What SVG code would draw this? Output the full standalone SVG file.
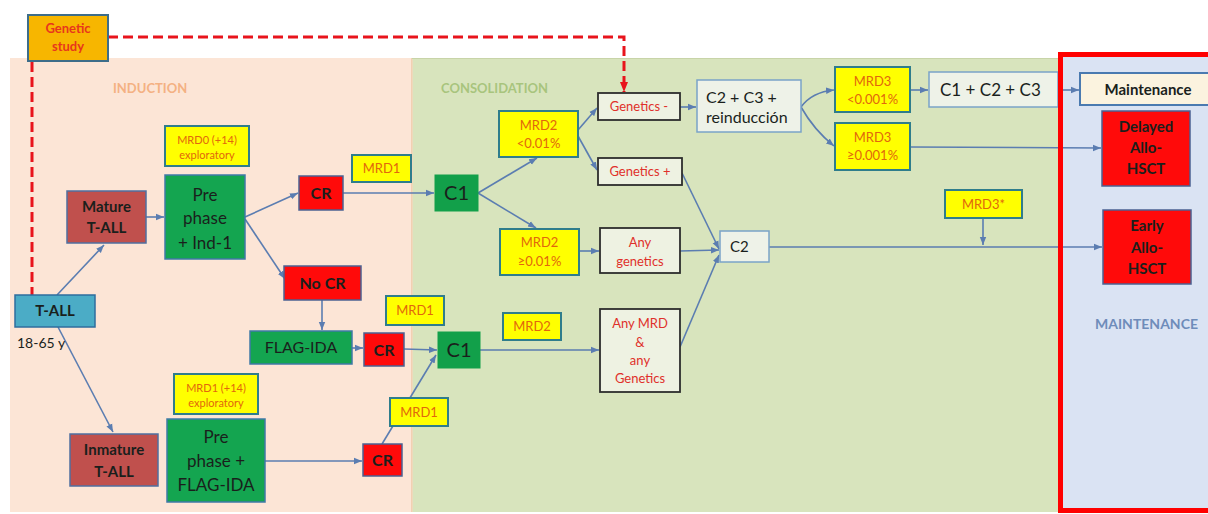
<svg xmlns="http://www.w3.org/2000/svg" width="1208" height="514" viewBox="0 0 1208 514">
<defs>
<style>
text{font-family:Lato,"Open Sans","Liberation Sans",sans-serif;}
.c{text-anchor:middle;}
.b{font-weight:bold;}
.mrd{fill:#ffff00;stroke:#2f7d8c;stroke-width:2;}
.mt{fill:#e2670c;font-size:13px;}
.ms{fill:#e2670c;font-size:11px;}
.grn{fill:#14a550;stroke:#3f79a6;stroke-width:1.5;}
.red{fill:#ff0a0a;stroke:#4b6192;stroke-width:1.5;}
.brn{fill:#c0504d;stroke:#4f6fa0;stroke-width:1.5;}
.gen{fill:#eef2e2;stroke:#2d2d2d;stroke-width:1.8;}
.pl{fill:#eef2e8;stroke:#7aa3c8;stroke-width:1.5;}
.dk{fill:#1a1f1c;}
.rt{fill:#e0302a;font-size:13px;}
.con path{fill:none;stroke:#5b7db1;stroke-width:1.6;marker-end:url(#ah);}
.con path.dash{fill:none;stroke:#e8141c;stroke-width:3;stroke-dasharray:10 5;marker-end:none;}
.con path.dash.arr{marker-end:url(#rah);}
</style>
<marker id="ah" viewBox="0 0 10 10" refX="10" refY="5" markerWidth="8" markerHeight="8" orient="auto" markerUnits="userSpaceOnUse"><path d="M0,1 L10,5 L0,9 z" fill="#5b7db1"/></marker>
<marker id="rah" viewBox="0 0 10 10" refX="10" refY="5" markerWidth="10" markerHeight="10" orient="auto" markerUnits="userSpaceOnUse"><path d="M0,1 L10,5 L0,9 z" fill="#e8141c"/></marker>
</defs>
<rect width="1208" height="514" fill="#ffffff"/>
<g id="panels">
<rect x="10" y="58" width="402" height="454" fill="#fce5d6"/>
<line x1="412" y1="58" x2="412" y2="512" stroke="#efc8a6" stroke-width="1.5"/>
<rect x="412.8" y="58" width="648" height="454" fill="#d8e4bd"/>
<line x1="412" y1="58.5" x2="1060" y2="58.5" stroke="#c8d4a8" stroke-width="1"/>
<rect x="1060" y="54" width="150" height="458" fill="#dae3f3"/>
<text x="113" y="92.5" class="b" font-size="13" fill="#f4b183">INDUCTION</text>
<text x="441" y="92.5" class="b" font-size="13" fill="#a8c47d">CONSOLIDATION</text>
<text x="1095" y="329" class="b" font-size="14" fill="#6e8cba">MAINTENANCE</text>
</g>
<g id="connectors" class="con">
<path d="M57,295 L104,245"/>
<path d="M58,327 L113,432"/>
<path d="M146,217 L164,217"/>
<path d="M245,217 L298,193"/>
<path d="M245,219 L285,279"/>
<path d="M322,300 L322,330"/>
<path d="M352,348 L363,348"/>
<path d="M343,193 L434,193"/>
<path d="M404,349 L437,350"/>
<path d="M382,444 L436,355"/>
<path d="M265,461 L362,461"/>
<path d="M478,193 L537,158"/>
<path d="M478,193 L536,228"/>
<path d="M578,130 L597,108"/>
<path d="M578,136 L597,170"/>
<path d="M680,107 L696,107"/>
<path d="M682,173 L719,249"/>
<path d="M579,251 L599,251"/>
<path d="M680,251 L719,250"/>
<path d="M680,347 L719,255"/>
<path d="M480,350 L599,350"/>
<path d="M801,107 Q812,92 834,90"/>
<path d="M801,107 Q814,130 834,146"/>
<path d="M910,90 L928,90"/>
<path d="M1058,90 L1079,90"/>
<path d="M910,147 L1101,148"/>
<path d="M769,247 L1102,247"/>
<path d="M983,218 L983,245"/>
<path class="dash arr" d="M108,37 H624 V92"/>
<path class="dash" d="M32,62 V295"/>
</g>
<g id="genetic-study"><rect x="28" y="15" width="80" height="46" fill="#f7b600" stroke="#3d6d8a" stroke-width="2"/><text x="68" y="33" class="c b" font-size="13" fill="#e8361c">Genetic</text><text x="68" y="51" class="c b" font-size="13" fill="#e8361c">study</text></g>
<g id="t-all"><rect x="15" y="295" width="80" height="32" fill="#4bacc6" stroke="#2e6e9e" stroke-width="1.5"/><text x="55" y="316" class="c b dk" font-size="15">T-ALL</text></g>
<g id="age"><text x="17" y="348" font-size="14" class="dk">18-65 y</text></g>
<g id="mature"><rect x="67" y="191" width="79" height="52" class="brn"/><text x="106.5" y="212" class="c b dk" font-size="15">Mature</text><text x="106.5" y="233" class="c b dk" font-size="15">T-ALL</text></g>
<g id="inmature"><rect x="70" y="434" width="88" height="52" class="brn"/><text x="114" y="455" class="c b dk" font-size="15">Inmature</text><text x="114" y="477" class="c b dk" font-size="15">T-ALL</text></g>
<g id="mrd0"><rect x="165" y="126" width="84" height="40" class="mrd"/><text x="207" y="144" class="c ms">MRD0 (+14)</text><text x="207" y="159" class="c ms">exploratory</text></g>
<g id="prephase-ind1"><rect x="165" y="175" width="80" height="84" class="grn"/><text x="205" y="201" class="c dk" font-size="17">Pre</text><text x="205" y="224" class="c dk" font-size="17">phase</text><text x="205" y="249" class="c dk" font-size="17">+ Ind-1</text></g>
<g id="mrd1-plus14"><rect x="174" y="374" width="84" height="40" class="mrd"/><text x="216" y="392" class="c ms">MRD1 (+14)</text><text x="216" y="407" class="c ms">exploratory</text></g>
<g id="prephase-flagida"><rect x="167" y="419" width="98" height="83" class="grn"/><text x="216" y="443" class="c dk" font-size="17">Pre</text><text x="216" y="467" class="c dk" font-size="17">phase +</text><text x="216" y="491" class="c dk" font-size="17">FLAG-IDA</text></g>
<g id="cr1"><rect x="299" y="176" width="44" height="34" class="red"/><text x="321" y="199" class="c b dk" font-size="16">CR</text></g>
<g id="nocr"><rect x="284" y="266" width="77" height="34" class="red"/><text x="322.5" y="289" class="c b dk" font-size="16">No CR</text></g>
<g id="flagida"><rect x="250" y="331" width="102" height="33" class="grn"/><text x="301" y="353" class="c dk" font-size="16">FLAG-IDA</text></g>
<g id="cr2"><rect x="364" y="333" width="40" height="33" class="red"/><text x="384" y="355.5" class="c b dk" font-size="16">CR</text></g>
<g id="cr3"><rect x="363" y="444" width="39" height="32" class="red"/><text x="382.5" y="465.5" class="c b dk" font-size="16">CR</text></g>
<g id="mrd1a"><rect x="352" y="155" width="59" height="27" class="mrd"/><text x="381.5" y="173" class="c mt">MRD1</text></g>
<g id="mrd1b"><rect x="386" y="296" width="58" height="29" class="mrd"/><text x="415" y="315" class="c mt">MRD1</text></g>
<g id="mrd1c"><rect x="390" y="398" width="58" height="28" class="mrd"/><text x="419" y="416.5" class="c mt">MRD1</text></g>
<g id="c1a"><rect x="435" y="175" width="43" height="36" fill="#12a04a" stroke="#12a04a"/><text x="456.5" y="200" class="c dk" font-size="20">C1</text></g>
<g id="c1b"><rect x="438" y="332" width="42" height="36" fill="#12a04a" stroke="#12a04a"/><text x="459" y="357" class="c dk" font-size="20">C1</text></g>
<g id="mrd2-low"><rect x="499" y="111" width="79" height="46" class="mrd"/><text x="538.5" y="129.5" class="c mt">MRD2</text><text x="538.5" y="147.5" class="c mt">&lt;0.01%</text></g>
<g id="mrd2-high"><rect x="500" y="229" width="79" height="46" class="mrd"/><text x="539.5" y="246.5" class="c mt">MRD2</text><text x="539.5" y="265.5" class="c mt">≥0.01%</text></g>
<g id="mrd2"><rect x="503" y="313" width="58" height="27" class="mrd"/><text x="532" y="331" class="c mt">MRD2</text></g>
<g id="genetics-neg"><rect x="598" y="93" width="82" height="27" class="gen"/><text x="639" y="111" class="c rt">Genetics -</text></g>
<g id="genetics-pos"><rect x="598" y="158" width="84" height="27" class="gen"/><text x="640" y="176" class="c rt">Genetics +</text></g>
<g id="any-genetics"><rect x="600" y="228" width="80" height="45" class="gen"/><text x="640" y="246.5" class="c rt">Any</text><text x="640" y="265.5" class="c rt">genetics</text></g>
<g id="any-mrd"><rect x="600" y="309" width="80" height="83" class="gen"/><text x="640" y="327.5" class="c rt">Any MRD</text><text x="640" y="346.5" class="c rt">&amp;</text><text x="640" y="364.5" class="c rt">any</text><text x="640" y="382.5" class="c rt">Genetics</text></g>
<g id="c2c3"><rect x="697" y="80" width="104" height="52" class="pl"/><text x="706" y="102.5" class="dk" font-size="16">C2 + C3 +</text><text x="706" y="122.5" class="dk" font-size="16">reinducción</text></g>
<g id="c2"><rect x="720" y="231" width="49" height="31" class="pl"/><text x="730" y="252" class="dk" font-size="15">C2</text></g>
<g id="mrd3-low"><rect x="835" y="67" width="75" height="45" class="mrd"/><text x="872.5" y="85.5" class="c mt">MRD3</text><text x="872.5" y="103.5" class="c mt">&lt;0.001%</text></g>
<g id="mrd3-high"><rect x="835" y="123" width="75" height="47" class="mrd"/><text x="872.5" y="141.5" class="c mt">MRD3</text><text x="872.5" y="159.5" class="c mt">≥0.001%</text></g>
<g id="c1c2c3"><rect x="929" y="72" width="129" height="35" class="pl"/><text x="940" y="95.5" class="dk" font-size="17">C1 + C2 + C3</text></g>
<g id="mrd3star"><rect x="945" y="190" width="77" height="28" class="mrd"/><text x="983.5" y="208.5" class="c mt">MRD3*</text></g>
<g id="maintenance-frame"><rect x="1060.5" y="54.5" width="160" height="456" fill="none" stroke="#ff0000" stroke-width="5"/></g>
<g id="maintenance"><rect x="1080" y="73" width="140" height="32" fill="#fbf3df" stroke="#4a7ab0" stroke-width="2"/><text x="1148" y="94.5" class="c b dk" font-size="15">Maintenance</text></g>
<g id="delayed"><rect x="1102" y="111" width="88" height="75" class="red"/><text x="1146" y="132" class="c b dk" font-size="15">Delayed</text><text x="1146" y="153" class="c b dk" font-size="15">Allo-</text><text x="1146" y="174" class="c b dk" font-size="15">HSCT</text></g>
<g id="early"><rect x="1103" y="210" width="88" height="74" class="red"/><text x="1147" y="231" class="c b dk" font-size="15">Early</text><text x="1147" y="253" class="c b dk" font-size="15">Allo-</text><text x="1147" y="274" class="c b dk" font-size="15">HSCT</text></g>
</svg>
